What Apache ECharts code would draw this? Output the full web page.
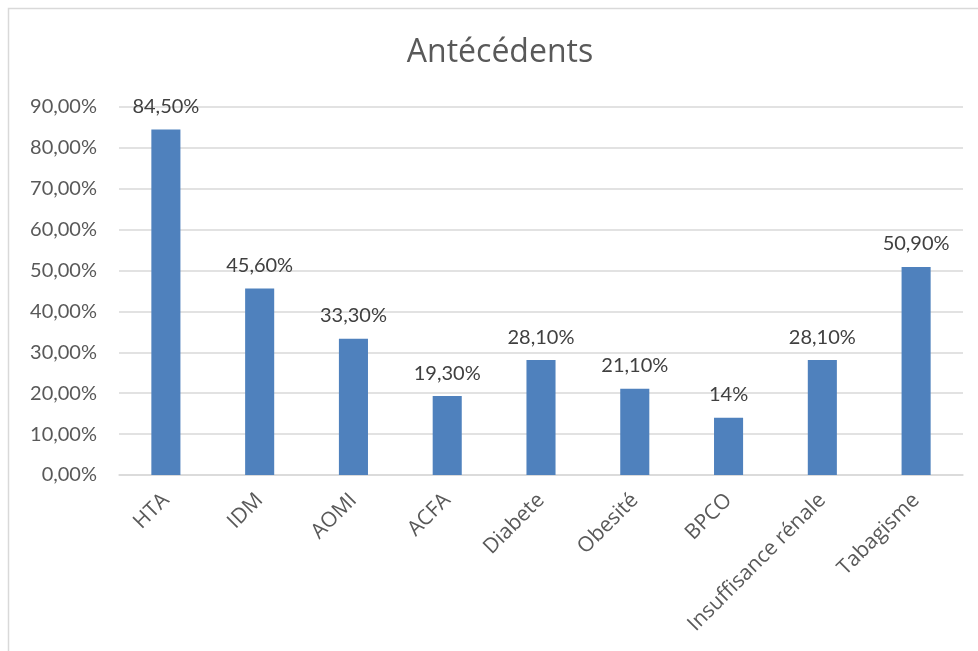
<!DOCTYPE html>
<html>
<head>
<meta charset="utf-8">
<script src="https://cdn.jsdelivr.net/npm/echarts@6/dist/echarts.min.js"></script>
<style>
  html, body { margin: 0; padding: 0; background: #fff; }
  #main { width: 978px; height: 651px; }
</style>
</head>
<body>
<div id="main"></div>
<script>
const categories = ['HTA', 'IDM', 'AOMI', 'ACFA', 'Diabete', 'Obesité', 'BPCO', 'Insuffisance rénale', 'Tabagisme'];
const values = [84.5, 45.6, 33.3, 19.3, 28.1, 21.1, 14, 28.1, 50.9];
const valueLabels = ['84,50%', '45,60%', '33,30%', '19,30%', '28,10%', '21,10%', '14%', '28,10%', '50,90%'];

const chart = echarts.init(document.getElementById('main'));
chart.setOption({
  animation: false,
  title: {
    text: 'Antécédents',
    left: 495,
    textAlign: 'center',
    top: 32,
    textStyle: { fontFamily: 'Open Sans', fontSize: 32, fontWeight: 'normal', color: '#595959' }
  },
  graphic: [{
    type: 'rect',
    shape: { x: 8.5, y: 8.5, width: 1000, height: 700 },
    style: { fill: 'none', stroke: '#d9d9d9', lineWidth: 1.5 },
    z: -1
  }],
  grid: { left: 119, right: 15, top: 107, bottom: 176 },
  xAxis: {
    type: 'category',
    data: categories,
    axisLine: { lineStyle: { color: '#d9d9d9', width: 1.5 } },
    axisTick: { show: false },
    axisLabel: {
      rotate: 45,
      margin: 22,
      fontFamily: 'Open Sans',
      fontSize: 21,
      color: '#595959'
    }
  },
  yAxis: {
    type: 'value',
    min: 0,
    max: 90,
    interval: 10,
    axisLine: { show: false },
    axisTick: { show: false },
    splitLine: { lineStyle: { color: '#d9d9d9', width: 1.5 } },
    axisLabel: {
      margin: 22,
      fontFamily: 'Lato',
      fontSize: 20,
      color: '#595959',
      formatter: v => v.toFixed(2).replace('.', ',') + '%'
    }
  },
  series: [{
    type: 'bar',
    data: values,
    barWidth: '31%',
    itemStyle: { color: '#4f81bd' },
    label: {
      show: true,
      position: 'top',
      distance: 13,
      fontFamily: 'Lato',
      fontSize: 20,
      color: '#404040',
      formatter: p => valueLabels[p.dataIndex]
    }
  }]
});
</script>
</body>
</html>
